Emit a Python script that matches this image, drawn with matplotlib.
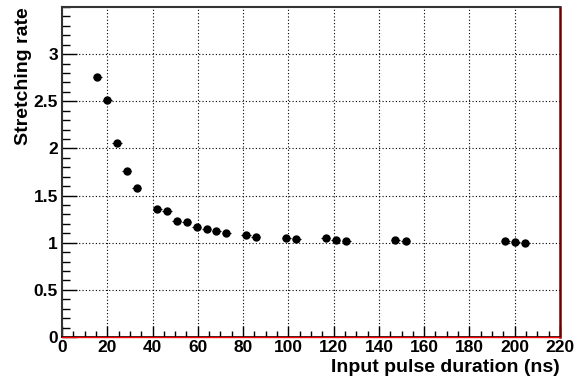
import matplotlib
matplotlib.use("Agg")
import matplotlib.pyplot as plt
from matplotlib.ticker import MultipleLocator

plt.rcParams['font.family'] = ['Liberation Sans', 'DejaVu Sans']
plt.rcParams['font.weight'] = 'bold'

duration = [15.6, 20.0, 24.3, 28.7, 33.1, 42.0, 46.4, 50.7, 55.2, 59.5, 63.9, 68.2, 72.6,
            81.3, 85.7, 99.1, 103.5, 116.6, 121.0, 125.5, 147.2, 151.8, 195.8, 200.3, 204.7]
rate = [2.754, 2.513, 2.057, 1.760, 1.583, 1.357, 1.336, 1.233, 1.223, 1.170, 1.149, 1.127, 1.103,
        1.082, 1.060, 1.054, 1.040, 1.054, 1.032, 1.017, 1.028, 1.017, 1.017, 1.006, 1.000]
duration_err = [2.0] * len(duration)

fig = plt.figure(figsize=(5.83, 3.78), dpi=100)
ax = fig.add_axes([0.1063, 0.1085, 0.9605 - 0.1063, 0.9815 - 0.1085])

ax.errorbar(duration, rate, xerr=duration_err, fmt='o', color='black', ms=5.0,
            elinewidth=0.8, capsize=0, zorder=3)

ax.set_xlim(0, 220)
ax.set_ylim(0, 3.5)
ax.xaxis.set_major_locator(MultipleLocator(20))
ax.xaxis.set_minor_locator(MultipleLocator(5))
ax.yaxis.set_major_locator(MultipleLocator(0.5))
ax.yaxis.set_minor_locator(MultipleLocator(0.1))
ax.set_yticks([0, 0.5, 1, 1.5, 2, 2.5, 3])
ax.set_yticklabels(['0', '0.5', '1', '1.5', '2', '2.5', '3'])

ax.grid(True, which='major', color='black', linestyle=(0, (1, 2)), linewidth=0.8)
ax.tick_params(which='both', direction='in', top=False, right=False, labelsize=12.5, width=1)
ax.tick_params(axis='x', which='major', length=8)
ax.tick_params(axis='x', which='minor', length=4)
ax.tick_params(axis='y', which='major', length=11)
ax.tick_params(axis='y', which='minor', length=5.5)
ax.tick_params(axis='x', pad=2)
ax.tick_params(axis='y', pad=3)

for s in ['left', 'top']:
    ax.spines[s].set_color('#333333')
    ax.spines[s].set_linewidth(1.5)
ax.spines['bottom'].set_color('black')
ax.spines['bottom'].set_linewidth(1.2)
ax.spines['right'].set_color('#700000')
ax.spines['right'].set_linewidth(1.8)
ax.axhline(0, color='red', linewidth=1.0, clip_on=False, zorder=4)

ax.set_xlabel('Input pulse duration (ns)', fontsize=14, fontweight='bold')
ax.xaxis.set_label_coords(1.0, -0.068)
ax.xaxis.label.set_horizontalalignment('right')
ax.xaxis.label.set_verticalalignment('top')
ax.set_ylabel('Stretching rate', fontsize=14, fontweight='bold')
ax.yaxis.set_label_coords(-0.078, 1.0)
ax.yaxis.label.set_verticalalignment('center')
ax.yaxis.label.set_horizontalalignment('right')

fig.savefig('out.png', dpi=100)
